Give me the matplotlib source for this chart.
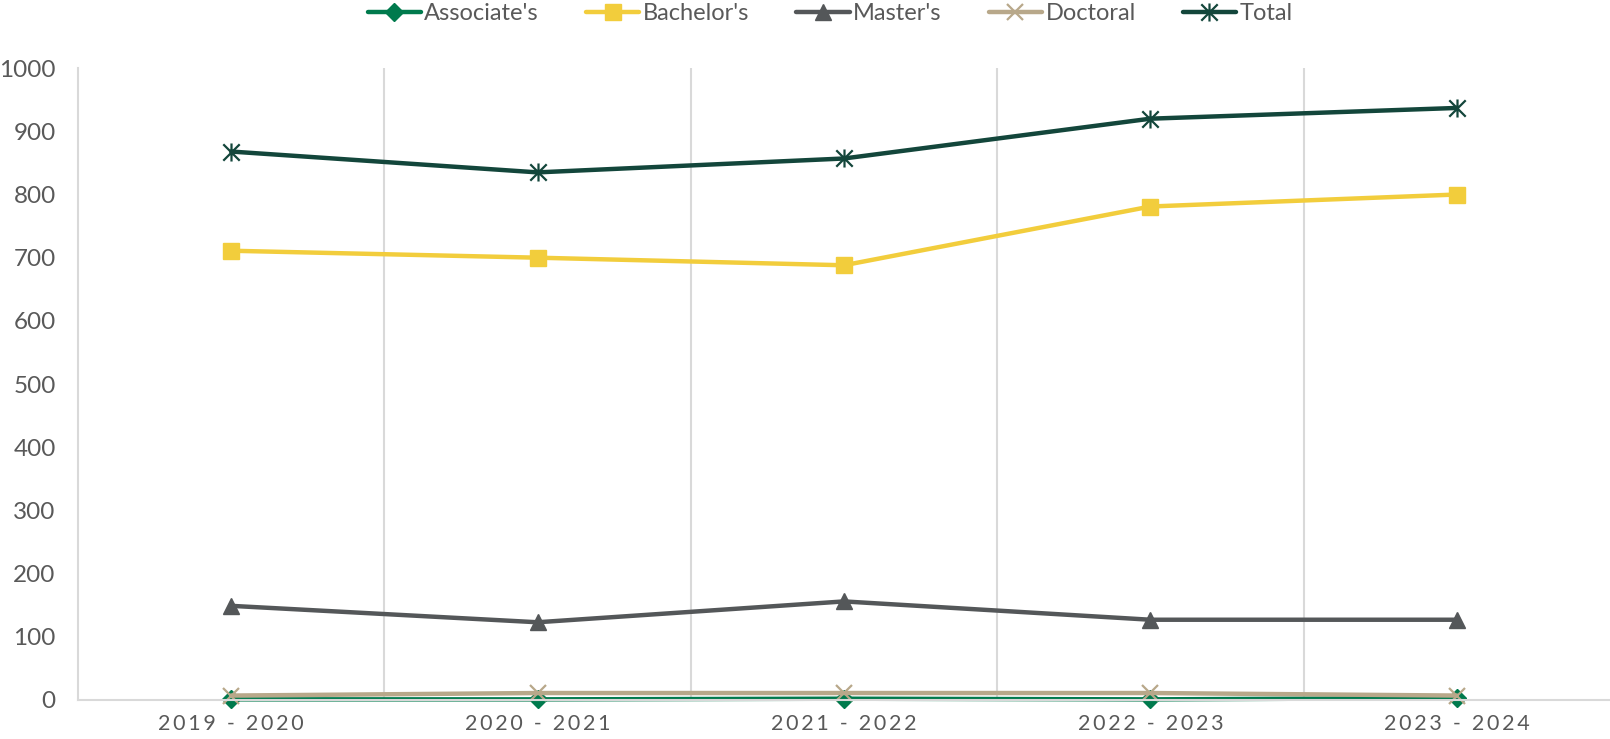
import numpy as np
import matplotlib
matplotlib.use("Agg")
import matplotlib.pyplot as plt
from matplotlib.path import Path

plt.rcParams['font.family'] = ['Lato', 'DejaVu Sans']

# Data
years = ["2019 - 2020", "2020 - 2021", "2021 - 2022", "2022 - 2023", "2023 - 2024"]
associates = [1, 1, 2, 1, 3]
bachelors = [711, 700, 688, 781, 800]
masters = [149, 123, 156, 127, 127]
doctoral = [7, 11, 11, 11, 7]
total = [868, 835, 857, 920, 937]

# Asterisk marker (x plus vertical bar)
star_path = Path(
    [(-1, -1), (1, 1), (-1, 1), (1, -1), (0, -1.1), (0, 1.1)],
    [Path.MOVETO, Path.LINETO, Path.MOVETO, Path.LINETO, Path.MOVETO, Path.LINETO],
)

text_color = '#595959'
grid_color = '#D9D9D9'

fig = plt.figure(figsize=(16.1, 7.39), dpi=100)
ax = fig.add_axes([0.0484, 0.0528, 0.9516, 0.855])

x = np.arange(len(years))
series = [
    ("Associate's", associates, '#007A4D', 'D', 9),
    ("Bachelor's", bachelors, '#F2CD3C', 's', 11),
    ("Master's", masters, '#545759', '^', 11),
    ("Doctoral", doctoral, '#B8A88A', 'x', 11),
    ("Total", total, '#13463B', star_path, 13),
]
for name, vals, col, mk, ms in series:
    thin = mk == 'x' or mk is star_path
    ax.plot(x, vals, color=col, lw=3.2, marker=mk, markersize=ms,
            markeredgewidth=1.6 if thin else 1,
            markerfacecolor=col, markeredgecolor=col, label=name,
            solid_capstyle='round', clip_on=False)

ax.set_xlim(-0.5, len(years) - 0.5)
ax.set_ylim(0, 1000)
ax.set_yticks(np.arange(0, 1001, 100))
ax.set_xticks(x)
ax.set_xticklabels(['\u2009'.join(list(y)) for y in years])

for xv in np.arange(0.5, len(years) - 0.5, 1):
    ax.axvline(xv, color=grid_color, lw=1.5, zorder=0)

for s in ['top', 'right']:
    ax.spines[s].set_visible(False)
ax.spines['left'].set_color(grid_color)
ax.spines['left'].set_linewidth(1.5)
ax.spines['bottom'].set_color(grid_color)
ax.spines['bottom'].set_linewidth(1.5)

ax.tick_params(axis='both', length=0, colors=text_color)
ax.tick_params(axis='x', pad=10, labelsize=15.5)
ax.tick_params(axis='y', pad=16, labelsize=17.5)

ax.legend(loc='lower center', bbox_to_anchor=(0.491, 1.055), ncol=5, frameon=False,
          fontsize=17, labelcolor=text_color, handlelength=2.25, handletextpad=0.15,
          columnspacing=2.0, borderaxespad=0)

fig.savefig('out.png', dpi=100)
